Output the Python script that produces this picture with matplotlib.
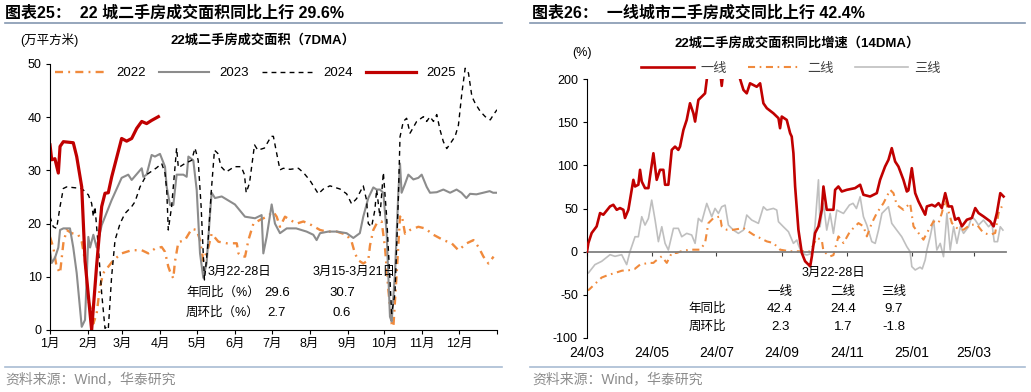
import numpy as np
import pandas as pd
import matplotlib
matplotlib.use("Agg")
import matplotlib.pyplot as plt
import matplotlib.transforms as mtransforms

plt.rcParams['font.family'] = ['Liberation Sans', 'Noto Sans CJK SC']
plt.rcParams['axes.unicode_minus'] = False

# ---- left chart: 22 cities, 7DMA (day of year, 万平方米)
s2022 = [(0,17.5),(2.7,15.5),(5.4,11.9),(8.2,10.7),(10.9,16.3),(13.6,18.8),(17.7,18.2),(23.1,17.9),
         (25.9,16.6),(28.6,13),(31.3,5.5),(33,4.3),(35.4,1.2),(38.1,3.1),(40.8,8.1),(43.5,10.7),(47.6,11.9),
         (51.7,13.1),(58.5,14.4),(66.7,15),(74.9,15),(80.3,14.4),(85.7,15.3),(91.2,15.6),(93.9,14.7),(96.6,11.9),
         (98,11),(100.7,9.7),(102,12.8),(104.8,16.5),(110.2,16.9),(115.7,19),(119.8,18.8),(122.5,16.9),(125.2,13),
         (129.3,15.5),(132,18.1),(137.5,16.6),(144.3,16.3),(152.5,16.3),(153.9,14.4),(156.6,13.8),(159.3,13.8),
         (162,16.9),(166.1,20),(171.5,20.7),(177,21.3),(182.4,22.2),(185.1,21.3),(187.8,19.4),(191.9,21.3),
         (196,20.7),(201.4,20),(206.9,20.4),(213.7,19.7),(220.5,18.8),(226,18.5),(234.1,18.5),(242.2,17.9),
         (246.3,16.6),(249,14.4),(251.8,13.1),(255.8,12.5),(259.9,13.1),(261.3,15.9),(264,18.8),(266.7,20),
         (270.8,20.4),(273.5,15.6),(276.3,7.5),(279,1.2),(280.4,0.6),(283.1,10.7),(285.8,21.3),(287.2,21.6),
         (289.9,18.1),(294,18.8),(300.8,19.4),(306.2,19.1),(313.1,17.9),(321.2,16.9),(328,16.3),(333.5,15),
         (340.3,16.3),(345.8,16.9),(349.9,15.6),(353.9,13.8),(358,12.5),(362.2,13.8)]
s2023 = [(0,15),(1.4,12.6),(4.1,13.6),(6.8,15.5),(8.2,18.8),(10.9,19.1),(16.3,19.1),(19,15.5),(21.8,10.7),
         (25.9,0.6),(28.6,1.9),(31.3,17.5),(32.7,15.5),(35.4,17.9),(38.1,15.5),(42.2,19.7),(50.3,24.4),
         (58.5,28.6),(63.9,29.2),(66.7,28.2),(74.9,30.4),(76.2,28.8),(78.9,29.2),(83,32.9),(85.7,32.6),
         (89.8,33.1),(93.9,30.7),(95.3,26.9),(98,23.5),(100.7,23.5),(103.4,29.2),(108.9,29.2),(111.6,28.8),
         (113,32.6),(117,31.9),(119.8,26.3),(122.5,14.4),(125.2,9.8),(127.9,12.6),(130.6,21.6),(132,25.8),
         (134.7,24.8),(140.2,25.1),(151,23.6),(159.2,21.3),(167.4,21),(172.8,21.6),(174.2,14.4),(176.9,17.5),
         (181,23.6),(183.7,20),(187.8,18.2),(193.3,19.1),(201,19.1),(209.5,18.5),(215,17.9),(217.7,16.9),
         (220.5,18.2),(227.3,18.5),(234,18.5),(242.2,18.2),(247.7,17.3),(253,18.2),(255.8,21.3),(259.9,24.8),
         (264,26.8),(266.7,26.4),(269.4,26.4),(272.2,25.8),(274.9,18.2),(277.6,2.5),(279,1.6),(281.7,10.7),
         (284.4,25.6),(285.8,31.3),(287.1,25.8),(289.8,27.4),(292.6,29.2),(296.7,28.3),(300.8,28.6),
         (303.5,29.2),(307.6,26.9),(310.3,25.8),(315.8,25.9),(321.2,26.4),(326.7,25.8),(332,26.4),(336,25.8),
         (340,24.8),(343,25.6),(348.2,25.5),(353.7,25.8),(359,26.1),(361.8,25.8),(364.5,25.8)]
s2024 = [(0,21.3),(2.7,19.4),(5.4,19.1),(8.2,23.2),(10.9,26.6),(13.6,26.9),(25.9,26.6),(31.3,25.4),(34,23.8),
         (35.4,21.3),(36.7,23.2),(39.4,15.7),(42.2,6.9),(44.9,0.3),(46.3,0.6),(47.6,0.2),(50.3,10),(53.1,16.9),
         (57.2,20),(61.2,21.9),(66.7,23.2),(69.4,24.1),(73.5,26.9),(78.9,29.2),(87.1,30.5),(91.2,31.3),
         (93.9,29.5),(95.3,26.3),(96.6,18.8),(99.3,23.2),(103.4,34.2),(104.8,30.5),(110.2,31.3),(115.7,31.9),
         (118.4,34.2),(121,31.9),(123.4,23.2),(126.1,9.4),(128.8,15.7),(131.6,25.8),(134.3,33.8),(137,33.2),
         (139.7,30.7),(143.8,29.7),(150.6,30.7),(156.1,30.7),(158.8,29.2),(160.2,25.8),(162.9,27.6),(167,34.8),
         (169.7,33.8),(175.1,34.2),(180.6,36.4),(182.4,36.4),(185.1,33.2),(187.8,30.1),(190.5,30.4),(196,30.2),
         (202.8,30.4),(206.9,29.6),(212.3,28.1),(219.1,25.6),(223.2,26.5),(228.6,27.1),(236.8,26.5),
         (242.2,25.6),(246.3,23.7),(250.4,24.7),(255.8,27.1),(258.5,24.4),(259.9,20),(262.6,19.4),(265.3,22.6),
         (266.7,26.4),(269.4,21.3),(272.2,29.6),(274.9,21.3),(277.6,9.4),(279,3.1),(281.7,6.9),(284.4,24.4),
         (285.8,36.3),(288.5,39.2),(291.2,39.8),(294,37),(299.4,39.2),(304.9,40.1),(307.6,39.2),(310.3,40.1),
         (313.1,39.2),(315.8,40.5),(318.5,37.6),(321.2,35.4),(324,34.1),(326.7,35),(330.8,36.4),(333.5,38.5),
         (336.3,44.5),(339,49.2),(341.7,48.3),(344.5,43.9),(347.2,42.6),(351.3,41.1),(355.4,40.1),(359.5,39.5),
         (362.2,40.5),(365,41.4)]
s2025 = [(0,34.8),(1.4,32),(4,32.2),(6.8,29.5),(8.2,34.5),(10.9,35.4),(19,35.2),(21.8,32.6),(25.9,26.9),
         (28.6,13),(34,0),(38,11.9),(42.2,23.2),(44.9,25.7),(47.6,25.8),(50.4,28.8),(58.5,36),(62.6,35.5),
         (66.7,36),(70.8,37.9),(74.9,39.2),(78.9,38.8),(83,39.4),(88.5,40.1)]
months = ['1月', '2月', '3月', '4月', '5月', '6月', '7月', '8月', '9月', '10月', '11月', '12月']

# ---- right chart: yoy growth 14DMA (days since 2024-03-01, %)
tier1 = [(0,0),(1.3,10),(4.4,21.6),(9.1,29.3),(12.3,44.7),(15.4,42.8),(21.7,52.4),(24.8,54.3),(28,48.5),
         (31.1,50.5),(34.3,48.5),(35.8,39),(39,48.5),(43.7,83.2),(45.3,75.5),(48.4,77.5),(50,94.8),(51.6,81.3),
         (54.7,73.6),(57.9,73.6),(59.4,87),(62.6,114),(65.7,83.2),(68.8,94.8),(72,94.8),(73.6,77.5),(76.7,77.5),
         (79.9,117.9),(83,121.7),(86.1,117.9),(87.7,121.7),(90.9,141),(94,152.6),(97.1,171.9),(100.3,160.3),
         (101.9,150.7),(105,175.8),(108.2,179.6),(111.3,183.4),(114,210),(118,228),(122,240),(125,215),
         (127,192),(129,215),(134,240),(140,228),(144.3,200),(147.5,187.3),(150.6,183.4),(153.7,195),
         (156.9,193),(160,191),(163.2,195),(166.3,171.9),(169.5,166.2),(175.7,160.3),(180.5,154.6),(182,143),
         (183.6,156.5),(188.3,152.6),(191.5,137.2),(193,133.3),(194.6,114.1),(196.2,75.5),(199.3,25.4),
         (202.5,-1.5),(205.6,-11.1),(208.8,-15),(210.4,-17),(212,-5.4),(215,21.6),(218.2,29.3),(221.3,48.5),
         (222.9,75.5),(226,48.5),(229.2,48.5),(232.3,48.5),(233.9,71.6),(237,75.5),(240.2,69.7),(244.9,71.6),
         (252.7,73.6),(257.5,77.5),(260.6,65.9),(266.9,63.9),(273.2,67.8),(276.3,83.2),(281,98.6),(284.2,106.4),
         (287.3,119.9),(290.5,104.4),(293.6,98.6),(298.3,83.2),(301.5,69.7),(303,71),(306.2,96.7),(309.4,67.8),
         (312.5,58.2),(317.2,46.6),(318.8,42.8),(320.4,52.4),(325.1,54.3),(328.2,52.4),(331.4,56.2),(334.5,50.5),
         (337.7,67.8),(340.8,52.4),(344,52.4),(347.1,37),(350.3,39),(353.4,29.3),(358.1,37),(362.8,39),
         (366,50.5),(369.1,44.7),(373.8,40.8),(380.1,35.1),(383.3,29.3),(386.4,44.7),(389.6,67.8),(392.7,63.9)]
tier2 = [(0,-45),(1.9,-44),(7,-38),(13.8,-30),(20,-27),(26.4,-24.7),(33,-22),(39,-21.6),(45,-20),(50,-15),
         (57.8,-13.1),(62.6,-13),(64.2,-11.2),(70.4,-5.4),(75.2,-13),(79.9,-1.5),(84.6,-1.5),(90,1),(97.2,2.3),
         (106.6,2.3),(111.3,10),(114.4,33),(119.2,38.9),(125.5,40.8),(127,29.3),(131.7,25.4),(138,25.4),
         (147.5,27.3),(156.9,19.6),(163.2,15.8),(169.5,11.9),(175.7,10),(182,2.3),(191.5,0.4),(200.9,0.4),
         (210.4,0.4),(216.6,15.8),(221.3,13.9),(222.9,0.4),(229.2,-5.4),(232.3,-4),(237,17.7),(241.8,10),
         (248,23.5),(255.9,33.1),(260.6,29.3),(263.8,17.7),(268.5,33.1),(273.2,44.7),(279.5,56.2),(285.8,71.6),
         (288.9,67.8),(292,54.3),(298.3,48.5),(304.6,56.2),(307.8,29.3),(312.5,21.6),(317.2,13.9),(320.4,21.6),
         (326.7,35.1),(331.4,33.1),(334.5,44.7),(337.7,60.1),(340.8,46.6),(344,33.1),(348.7,27.4),(355,25.4),
         (361.3,31.2),(367.6,31.2),(373.8,21.6),(380.1,19.6),(384.8,21.6),(388,44.7),(391.1,52.4)]
tier3 = [(0,-25),(1.3,-24.7),(7.5,-15),(13.8,-11.2),(21.7,-3.5),(26.4,-5.4),(32.7,-3.5),(37.4,-15),(40.5,0),
         (45.3,17.3),(48.4,17.3),(51.6,40.5),(54.7,30.8),(57.9,38.5),(61,59.7),(64.2,36.6),(67.3,11.6),
         (70.5,28.9),(73.6,9.6),(76.7,1.9),(81.5,27),(86.1,27),(89.3,17.3),(94,21.2),(98.7,19.3),(101.9,9.6),
         (105,38.5),(108.2,34.7),(112.9,55.9),(117.6,40.5),(120.7,50.1),(123.9,44.3),(127,52),(130.2,53.9),
         (133.3,30.8),(138,25),(142.7,21.2),(147.5,25),(150.6,42.4),(155.3,36.6),(161.6,32.8),(166.3,52),
         (169.5,48.2),(175.7,50.1),(178.9,48.2),(180.5,34.7),(185.1,28.9),(189.9,23.1),(194.6,9.6),(197.8,13.5),
         (199.3,7.7),(202.5,-1.9),(207.2,-3.9),(212,-1.9),(215,30.8),(218.2,83.2),(219.7,28.9),(222.9,55.9),
         (226,25),(229.2,44.3),(232.3,21.2),(235.5,48.2),(238.6,46.2),(241.8,44.3),(247.4,54),(250.8,56),
         (254,50),(257.5,63.6),(260.6,40.5),(263.8,30.8),(268.5,11.6),(271.7,9.6),(274.8,25),(278,44.3),
         (281.1,48.2),(284.2,52),(287.3,32.8),(292,25),(296.7,17.3),(301.5,5.8),(304.6,0),(306.2,-17.3),
         (309.4,-21.2),(314,-18),(316,-20),(318.8,-9.6),(320.4,1.9),(323.5,17.3),(326.7,36.6),(329.8,1.9),
         (333,9.6),(336.1,-5.8),(339.3,44.3),(342.4,1.9),(345.6,28.9),(348.7,9.6),(351.9,28.9),(355,21.2),
         (359.7,28.9),(362.8,40.5),(366,36.6),(369.1,30.8),(373.8,36.6),(378.6,28.9),(381.7,32.8),(383.9,11.6),
         (387,11.6),(389.6,28.9),(392.1,25)]
r_ticks = ['24/03', '24/05', '24/07', '24/09', '24/11', '25/01', '25/03']

W, H = 1031, 392
fig = plt.figure(figsize=(W / 100, H / 100), dpi=100)

def px(x, y):
    return x / W, 1 - y / H

def xy(s):
    a = np.array(s)
    return a[:, 0], a[:, 1]

RED = '#C00000'
ORANGE = '#F08A3C'

# ---------------- left
ax1 = fig.add_axes([50 / W, 1 - 330 / H, 447 / W, 266 / H])
x, y = xy(s2022)
ax1.plot(x, y, color=ORANGE, lw=1.7, dashes=[3.4, 2.2, 0.8, 2.2], label='2022')
x, y = xy(s2023)
ax1.plot(x, y, color='#8C8C8C', lw=1.5, label='2023')
x, y = xy(s2024)
ax1.plot(x, y, color='black', lw=1.0, dashes=[3.5, 3], label='2024')
x, y = xy(s2025)
ax1.plot(x, y, color=RED, lw=2.3, label='2025')

ax1.set_xlim(0, 365)
ax1.set_ylim(0, 50)
ax1.set_yticks(range(0, 51, 10))
month_start = (pd.date_range('2023-01-01', '2024-01-01', freq='MS') - pd.Timestamp('2023-01-01')).days
ax1.set_xticks(month_start)
ax1.set_xticklabels(months + [''])
for s in ['top', 'right']:
    ax1.spines[s].set_visible(False)
ax1.tick_params(labelsize=9, length=3, width=0.8, pad=3)
ax1.legend(ncol=4, loc='center', bbox_to_anchor=(0.46, 0.966), frameon=False, fontsize=9.5,
           handlelength=3.8, handletextpad=0.8, columnspacing=1.0)

# ---------------- right
ax2 = fig.add_axes([587 / W, 1 - 338 / H, 419 / W, 259 / H])
x, y = xy(tier1)
ax2.plot(x, y, color=RED, lw=1.9, label='一线', zorder=3)
x, y = xy(tier2)
ax2.plot(x, y, color=ORANGE, lw=1.5, dashes=[3.4, 2.2, 0.8, 2.2], label='二线', zorder=2)
x, y = xy(tier3)
ax2.plot(x, y, color='#BFBFBF', lw=1.2, label='三线', zorder=1)
ax2.set_xlim(0, 395)
ax2.set_ylim(-100, 200)
ax2.set_yticks(range(-100, 201, 50))
tick_days = (pd.date_range('2024-03-01', '2025-03-01', freq='2MS') - pd.Timestamp('2024-03-01')).days
ax2.set_xticks(tick_days)
ax2.tick_params(axis='x', labelbottom=False, length=3, width=0.8, color='#404040')
ax2.tick_params(axis='y', labelsize=9, length=3, width=0.8)
ax2.spines['bottom'].set_position(('data', 0))
ax2.spines['bottom'].set_color('#808080')
ax2.spines['bottom'].set_linewidth(1.3)
for s in ['top', 'right']:
    ax2.spines[s].set_visible(False)
trans = mtransforms.blended_transform_factory(ax2.transData, ax2.transAxes)
for d, lab in zip(tick_days, r_ticks):
    ax2.text(d, -0.03, lab, transform=trans, ha='center', va='top', fontsize=10)
ax2.legend(ncol=3, loc='center', bbox_to_anchor=(0.487, 1.04), frameon=False, fontsize=9.5,
           handlelength=4.0, handletextpad=0.5, columnspacing=1.6, labelcolor='#404040')

# ---------------- headers, footers
LINE = '#8497B0'
for x0, x1, tx, title in [(5, 502, 5, '图表25：  22 城二手房成交面积同比上行 29.6%'),
                          (530, 1025, 532, '图表26：  一线城市二手房成交同比上行 42.4%')]:
    fig.text(*px(tx, 13), title, fontsize=11.5, fontweight='bold', va='center', ha='left')
    fig.add_artist(plt.Line2D([x0 / W, x1 / W], [1 - 23 / H] * 2, color=LINE, lw=1.2))
    fig.add_artist(plt.Line2D([x0 / W, x1 / W], [1 - 367 / H] * 2, color='#A9BCD3', lw=1.2))
    fig.text(*px(tx, 379), '资料来源：Wind，华泰研究', fontsize=10, color='#8C8C8C', va='center', ha='left')

fig.text(*px(263, 40), '22城二手房成交面积（7DMA）', fontsize=9.5, fontweight='bold', ha='center', va='center')
fig.text(*px(20, 40), '(万平方米)', fontsize=9, ha='left', va='center')
fig.text(*px(797, 43), '22城二手房成交面积同比增速（14DMA）', fontsize=9.5, fontweight='bold',
         ha='center', va='center')
fig.text(*px(582, 53), '(%)', fontsize=9, ha='center', va='center')

# left annotation table
fig.text(*px(239, 272), '3月22-28日', fontsize=9, ha='center', va='center')
fig.text(*px(354, 272), '3月15-3月21日', fontsize=9, ha='center', va='center')
fig.text(*px(223, 293), '年同比（%）', fontsize=9, ha='center', va='center')
fig.text(*px(223, 313), '周环比（%）', fontsize=9, ha='center', va='center')
fig.text(*px(277, 293), '29.6', fontsize=9.5, ha='center', va='center')
fig.text(*px(277, 313), '2.7', fontsize=9.5, ha='center', va='center')
fig.text(*px(342, 293), '30.7', fontsize=9.5, ha='center', va='center')
fig.text(*px(342, 313), '0.6', fontsize=9.5, ha='center', va='center')

# right annotation table
fig.text(*px(833, 273), '3月22-28日', fontsize=9, ha='center', va='center')
for cx, lab, a, b in [(780, '一线', '42.4', '2.3'), (843, '二线', '24.4', '1.7'), (894, '三线', '9.7', '-1.8')]:
    fig.text(*px(cx, 292), lab, fontsize=9, ha='center', va='center')
    fig.text(*px(cx, 309), a, fontsize=9.5, ha='center', va='center')
    fig.text(*px(cx, 327), b, fontsize=9.5, ha='center', va='center')
fig.text(*px(707, 309), '年同比', fontsize=9, ha='center', va='center')
fig.text(*px(707, 327), '周环比', fontsize=9, ha='center', va='center')

fig.savefig('out.png', dpi=100)
